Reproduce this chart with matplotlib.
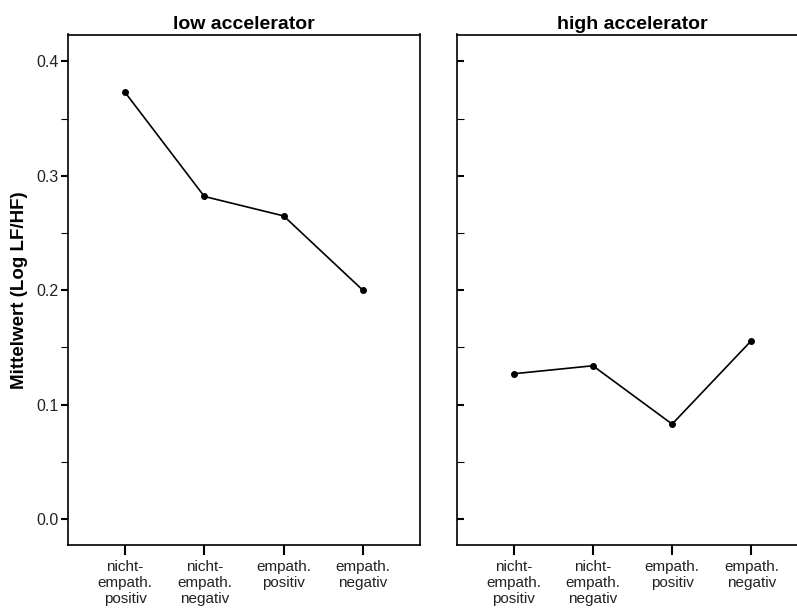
import matplotlib
matplotlib.use("Agg")
import matplotlib.pyplot as plt
from matplotlib.ticker import MultipleLocator

plt.rcParams['font.family'] = ['Liberation Sans', 'DejaVu Sans']

categories = ["nicht-\nempath.\npositiv", "nicht-\nempath.\nnegativ", "empath.\npositiv", "empath.\nnegativ"]
panel_titles = ["low accelerator", "high accelerator"]
low_values = [0.373, 0.282, 0.265, 0.200]
high_values = [0.127, 0.134, 0.083, 0.156]
ytick_values = [0.0, 0.1, 0.2, 0.3, 0.4]
ylabel = "Mittelwert (Log LF/HF)"

fig = plt.figure(figsize=(7.97, 6.12), dpi=100)
W, H = 797, 612
def rect(x0, y0, x1, y1):
    return [x0 / W, 1 - y1 / H, (x1 - x0) / W, (y1 - y0) / H]

ax1 = fig.add_axes(rect(68, 34.5, 420, 545))
ax2 = fig.add_axes(rect(456.5, 34.5, 808.5, 545))

xs = list(range(len(categories)))
for i, (ax, vals, title) in enumerate(zip([ax1, ax2], [low_values, high_values], panel_titles)):
    ax.plot(xs, vals, color='black', lw=1.2, marker='o', ms=4, mfc='black', mec='black')
    ax.set_xlim(-0.72, 3.72)
    ax.set_ylim(-0.0227, 0.4236)
    ax.set_xticks(xs)
    ax.set_xticklabels(categories, fontsize=11, linespacing=1.15, color='#222222')
    ax.set_yticks(ytick_values)
    ax.yaxis.set_minor_locator(MultipleLocator(0.05))
    ax.set_title(title, fontsize=14, fontweight='bold', pad=4)
    for s in ax.spines.values():
        s.set_linewidth(1.2)
    ax.tick_params(axis='x', direction='out', length=7, width=1.5, pad=4)
    if i == 0:
        ax.set_yticklabels([f"{v:.1f}" for v in ytick_values], fontsize=11.5, color='#222222')
        ax.tick_params(axis='y', which='major', direction='out', length=5, width=1.5, pad=2)
        ax.tick_params(axis='y', which='minor', direction='out', length=5, width=0.8)
        ax.set_ylabel(ylabel, fontsize=13.5, fontweight='bold', labelpad=6)
    else:
        ax.set_yticklabels([])
        ax.tick_params(axis='y', which='major', direction='in', length=5, width=1.5)
        ax.tick_params(axis='y', which='minor', direction='in', length=5, width=0.8)

fig.savefig("out.png", dpi=100)
